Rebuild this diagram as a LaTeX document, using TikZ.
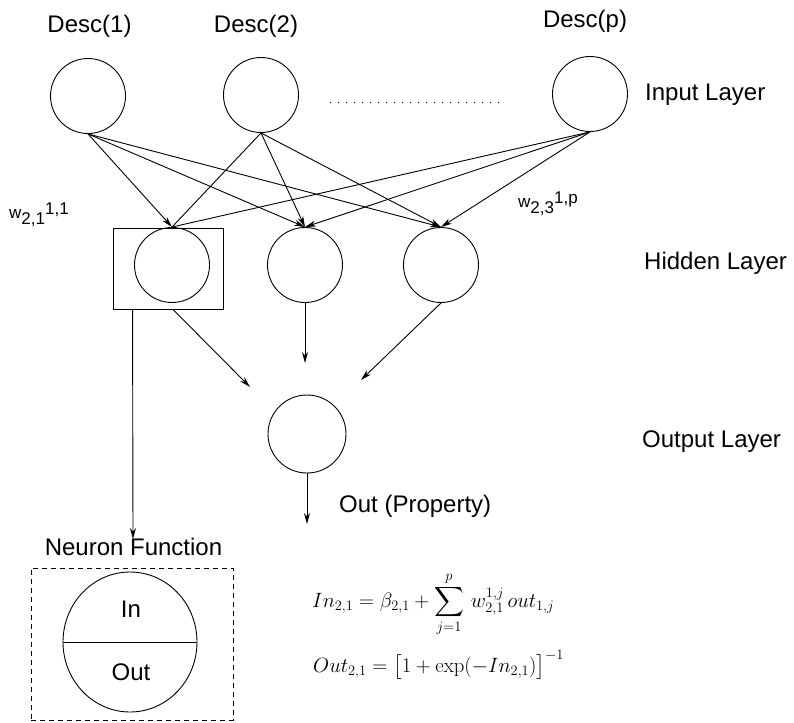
\documentclass[tikz,border=0pt]{standalone}
\usepackage[no-math]{fontspec}
\setmainfont{Liberation Sans}
\usepackage{amsmath}
\usetikzlibrary{arrows.meta,shapes.geometric}
\begin{document}
\begin{tikzpicture}[x=1pt,y=-1pt,
  neuron/.style={draw,circle,inner sep=0pt,minimum size=75pt,line width=0.9pt},
  conn/.style={line width=0.9pt},
  arr/.style={conn,-{Stealth[length=11pt,width=6pt]}},
  lbl/.style={inner sep=0pt,font=\fontsize{24}{28}\selectfont},
  wl/.style={inner sep=0pt,font=\fontsize{17}{20}\selectfont,anchor=base west},
  eq/.style={inner sep=0pt,anchor=base west,font=\fontsize{21.5}{24}\selectfont}]
\useasboundingbox (0,0) rectangle (794,722);
% input layer
\node[neuron] (i1) at (88,96) {};
\node[neuron] (i2) at (261,95) {};
\node[neuron] (ip) at (590,94) {};
\node[lbl,anchor=base] (d1) at (89.5,33) {Desc(1)};
\node[lbl,anchor=base] (d2) at (256,33) {Desc(2)};
\node[lbl,anchor=base] (dp) at (585,28) {Desc(p)};
\coordinate (dotA) at (330,102);
\coordinate (dotB) at (502,102);
\draw[line width=0.9pt,dash pattern=on 1pt off 7pt] (dotA) -- (dotB);
% hidden layer
\node[neuron] (h1) at (172,265) {};
\node[neuron] (h2) at (305,265) {};
\node[neuron] (h3) at (441,265) {};
\node[draw,rectangle,inner sep=0pt,minimum width=110pt,minimum height=81pt,line width=0.9pt] (hb) at (168,268.5) {};
% output layer
\node[neuron,minimum size=78pt] (o) at (307,434) {};
% layer labels
\node[lbl,anchor=base west] (lin) at (645,101) {Input Layer};
\node[lbl,anchor=base west] (lhid) at (644,269) {Hidden Layer};
\node[lbl,anchor=base west] (lout) at (642,447) {Output Layer};
\node[lbl,anchor=base west] (lprop) at (339,512) {Out (Property)};
% weights labels
\node[wl] (w1) at (9,218) {w\raisebox{-6pt}{2,1}\raisebox{4pt}{1,1}};
\node[wl] (w2) at (518,207) {w\raisebox{-6pt}{2,3}\raisebox{4pt}{1,p}};
% input -> hidden
\draw[arr] (i1.south) -- (h1.north);
\draw[arr] (i1.south) -- (h2.north);
\draw[arr] (i1.south) -- (h3.north);
\draw[conn] (i2.south) -- (h1.north);
\draw[arr] (i2.south) -- (h2.north);
\draw[arr] (i2.south) -- (h3.north);
\draw[conn] (ip.south) -- (h1.north);
\draw[arr] (ip.south) -- (h2.north);
\draw[arr] (ip.south) -- (h3.north);
% hidden -> output
\coordinate (t1) at (250,387);
\coordinate (t2) at (305,363);
\coordinate (t3) at (361,380);
\draw[arr] ([xshift=5pt]hb.south) -- (t1);
\draw[arr] (h2.south) -- (t2);
\draw[arr] (h3.south) -- (t3);
\coordinate (to) at (307,524);
\draw[arr] (o.south) -- (to);
% to neuron function
\coordinate (tn) at (133,539);
\draw[arr] ([xshift=20pt]hb.south west) -- (tn);
\node[lbl,anchor=base] (nf) at (133.5,555) {Neuron Function};
% neuron function box
\node[draw,rectangle,dash pattern=on 5pt off 4pt,inner sep=0pt,minimum width=202pt,minimum height=152pt,line width=0.9pt] (nb) at (132,644) {};
\node[draw,ellipse,inner sep=0pt,minimum width=134pt,minimum height=140pt,line width=0.9pt] (nc) at (130,642) {};
\draw[conn] (nc.west) -- (nc.east);
\node[lbl,anchor=center] (tin) at (131,609) {In};
\node[lbl,anchor=center] (tout) at (131,672) {Out};
% equations
\node[eq] (e1) at (312,607) {$\displaystyle In_{2,1} = \beta_{2,1} + \sum_{j=1}^{p}\, w_{2,1}^{1,j}\,out_{1,j}$};
\node[eq] (e2) at (313,672) {$Out_{2,1} = \bigl[1 + \exp(-In_{2,1})\bigr]^{-1}$};
\end{tikzpicture}
\end{document}
